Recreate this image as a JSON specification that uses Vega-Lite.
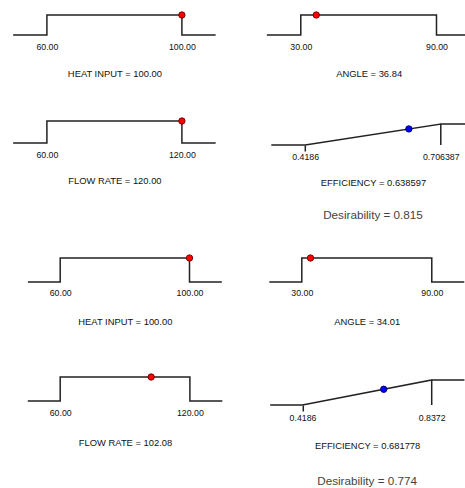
{
  "$schema": "https://vega.github.io/schema/vega-lite/v6.json",
  "padding": {"left": 9.2, "top": 9, "right": -11, "bottom": 0},
  "background": "white",
  "datasets": {
    "curves": [
      {"p": 1, "step": 0, "x": 50, "d": 0}, {"p": 1, "step": 1, "x": 60, "d": 0}, {"p": 1, "step": 2, "x": 60, "d": 1},
      {"p": 1, "step": 3, "x": 100, "d": 1}, {"p": 1, "step": 4, "x": 100, "d": 0}, {"p": 1, "step": 5, "x": 110, "d": 0},
      {"p": 2, "step": 0, "x": 15, "d": 0}, {"p": 2, "step": 1, "x": 30, "d": 0}, {"p": 2, "step": 2, "x": 30, "d": 1},
      {"p": 2, "step": 3, "x": 90, "d": 1}, {"p": 2, "step": 4, "x": 90, "d": 0}, {"p": 2, "step": 5, "x": 105, "d": 0},
      {"p": 3, "step": 0, "x": 45, "d": 0}, {"p": 3, "step": 1, "x": 60, "d": 0}, {"p": 3, "step": 2, "x": 60, "d": 1},
      {"p": 3, "step": 3, "x": 120, "d": 1}, {"p": 3, "step": 4, "x": 120, "d": 0}, {"p": 3, "step": 5, "x": 135, "d": 0},
      {"p": 4, "step": 0, "x": 0.34665, "d": 0}, {"p": 4, "step": 1, "x": 0.4186, "d": 0}, {"p": 4, "step": 2, "x": 0.706387, "d": 1},
      {"p": 4, "step": 3, "x": 0.706387, "d": 0}, {"p": 4, "step": 4, "x": 0.706387, "d": 1}, {"p": 4, "step": 5, "x": 0.77834, "d": 1},
      {"p": 5, "step": 0, "x": 50, "d": 0}, {"p": 5, "step": 1, "x": 60, "d": 0}, {"p": 5, "step": 2, "x": 60, "d": 1},
      {"p": 5, "step": 3, "x": 100, "d": 1}, {"p": 5, "step": 4, "x": 100, "d": 0}, {"p": 5, "step": 5, "x": 110, "d": 0},
      {"p": 6, "step": 0, "x": 15, "d": 0}, {"p": 6, "step": 1, "x": 30, "d": 0}, {"p": 6, "step": 2, "x": 30, "d": 1},
      {"p": 6, "step": 3, "x": 90, "d": 1}, {"p": 6, "step": 4, "x": 90, "d": 0}, {"p": 6, "step": 5, "x": 105, "d": 0},
      {"p": 7, "step": 0, "x": 45, "d": 0}, {"p": 7, "step": 1, "x": 60, "d": 0}, {"p": 7, "step": 2, "x": 60, "d": 1},
      {"p": 7, "step": 3, "x": 120, "d": 1}, {"p": 7, "step": 4, "x": 120, "d": 0}, {"p": 7, "step": 5, "x": 135, "d": 0},
      {"p": 8, "step": 0, "x": 0.31395, "d": 0}, {"p": 8, "step": 1, "x": 0.4186, "d": 0}, {"p": 8, "step": 2, "x": 0.8372, "d": 1},
      {"p": 8, "step": 3, "x": 0.8372, "d": 0}, {"p": 8, "step": 4, "x": 0.8372, "d": 1}, {"p": 8, "step": 5, "x": 0.94325, "d": 1}
    ],
    "points": [
      {"p": 1, "x": 100, "d": 1, "kind": "factor"},
      {"p": 2, "x": 36.84, "d": 1, "kind": "factor"},
      {"p": 3, "x": 120, "d": 1, "kind": "factor"},
      {"p": 4, "x": 0.638597, "d": 0.7645, "kind": "response"},
      {"p": 5, "x": 100, "d": 1, "kind": "factor"},
      {"p": 6, "x": 34.01, "d": 1, "kind": "factor"},
      {"p": 7, "x": 102.08, "d": 1, "kind": "factor"},
      {"p": 8, "x": 0.681778, "d": 0.6287, "kind": "response"}
    ]
  },
  "columns": 2,
  "align": "none",
  "bounds": "flush",
  "spacing": {"row": 70, "column": 35.6},
  "concat": [
    {
      "width": 200.4, "height": 20,
      "layer": [
        {"data": {"name": "curves"}, "transform": [{"filter": "datum.p == 1"}],
         "mark": {"type": "line", "color": "#222", "strokeWidth": 1.5, "clip": false},
         "encoding": {
           "x": {"field": "x", "type": "quantitative", "scale": {"domain": [50.31, 109.69], "nice": false, "zero": false},
                 "axis": {"values": [60, 100], "format": ".2f", "title": "HEAT INPUT = 100.00", "titlePadding": 18.5, "tickOpacity": 0}},
           "y": {"field": "d", "type": "quantitative", "scale": {"domain": [0, 1], "nice": false}, "axis": null},
           "order": {"field": "step"}}},
        {"data": {"name": "points"}, "transform": [{"filter": "datum.p == 1"}],
         "mark": {"type": "circle", "size": 40, "opacity": 1, "strokeWidth": 1},
         "encoding": {
           "x": {"field": "x", "type": "quantitative"},
           "y": {"field": "d", "type": "quantitative"},
           "fill": {"field": "kind", "type": "nominal", "scale": {"domain": ["factor", "response"], "range": ["#ff0000", "#0000ff"]}, "legend": null},
           "stroke": {"field": "kind", "type": "nominal", "scale": {"domain": ["factor", "response"], "range": ["#7a0000", "#00006e"]}, "legend": null}}}
      ]
    },
    {
      "width": 193.7, "height": 20,
      "layer": [
        {"data": {"name": "curves"}, "transform": [{"filter": "datum.p == 2"}],
         "mark": {"type": "line", "color": "#222", "strokeWidth": 1.5, "clip": false},
         "encoding": {
           "x": {"field": "x", "type": "quantitative", "scale": {"domain": [17.18, 102.82], "nice": false, "zero": false},
                 "axis": {"values": [30, 90], "format": ".2f", "title": "ANGLE = 36.84", "titlePadding": 18.5, "tickOpacity": 0}},
           "y": {"field": "d", "type": "quantitative", "scale": {"domain": [0, 1], "nice": false}, "axis": null},
           "order": {"field": "step"}}},
        {"data": {"name": "points"}, "transform": [{"filter": "datum.p == 2"}],
         "mark": {"type": "circle", "size": 40, "opacity": 1, "strokeWidth": 1},
         "encoding": {
           "x": {"field": "x", "type": "quantitative"},
           "y": {"field": "d", "type": "quantitative"},
           "fill": {"field": "kind", "type": "nominal", "scale": {"domain": ["factor", "response"], "range": ["#ff0000", "#0000ff"]}, "legend": null},
           "stroke": {"field": "kind", "type": "nominal", "scale": {"domain": ["factor", "response"], "range": ["#7a0000", "#00006e"]}, "legend": null}}}
      ]
    },
    {
      "width": 200.4, "height": 38,
      "layer": [
        {"data": {"name": "curves"}, "transform": [{"filter": "datum.p == 3"}],
         "mark": {"type": "line", "color": "#222", "strokeWidth": 1.5, "clip": false},
         "encoding": {
           "x": {"field": "x", "type": "quantitative", "scale": {"domain": [45.47, 134.53], "nice": false, "zero": false},
                 "axis": {"values": [60, 120], "format": ".2f", "title": "FLOW RATE = 120.00", "titlePadding": 18, "tickOpacity": 0}},
           "y": {"field": "d", "type": "quantitative", "scale": {"domain": [0, 1.727], "nice": false}, "axis": null},
           "order": {"field": "step"}}},
        {"data": {"name": "points"}, "transform": [{"filter": "datum.p == 3"}],
         "mark": {"type": "circle", "size": 40, "opacity": 1, "strokeWidth": 1},
         "encoding": {
           "x": {"field": "x", "type": "quantitative"},
           "y": {"field": "d", "type": "quantitative"},
           "fill": {"field": "kind", "type": "nominal", "scale": {"domain": ["factor", "response"], "range": ["#ff0000", "#0000ff"]}, "legend": null},
           "stroke": {"field": "kind", "type": "nominal", "scale": {"domain": ["factor", "response"], "range": ["#7a0000", "#00006e"]}, "legend": null}}}
      ]
    },
    {
      "width": 202.4, "height": 40,
      "title": {"text": "Desirability = 0.815", "orient": "bottom", "anchor": "middle", "frame": "group", "offset": 22.5},
      "layer": [
        {"data": {"name": "curves"}, "transform": [{"filter": "datum.p == 4"}],
         "mark": {"type": "line", "color": "#222", "strokeWidth": 1.5, "clip": false},
         "encoding": {
           "x": {"field": "x", "type": "quantitative", "scale": {"domain": [0.34771, 0.77728], "nice": false, "zero": false},
                 "axis": {"values": [0.4186, 0.706387], "format": ".6~f", "title": "EFFICIENCY = 0.638597", "titlePadding": 18,
                          "tickOpacity": {"condition": {"test": "datum.value < 0.5", "value": 1}, "value": 0}}},
           "y": {"field": "d", "type": "quantitative", "scale": {"domain": [0, 1.905], "nice": false}, "axis": null},
           "order": {"field": "step"}}},
        {"data": {"name": "points"}, "transform": [{"filter": "datum.p == 4"}],
         "mark": {"type": "circle", "size": 40, "opacity": 1, "strokeWidth": 1},
         "encoding": {
           "x": {"field": "x", "type": "quantitative"},
           "y": {"field": "d", "type": "quantitative"},
           "fill": {"field": "kind", "type": "nominal", "scale": {"domain": ["factor", "response"], "range": ["#ff0000", "#0000ff"]}, "legend": null},
           "stroke": {"field": "kind", "type": "nominal", "scale": {"domain": ["factor", "response"], "range": ["#7a0000", "#00006e"]}, "legend": null}}}
      ]
    },
    {
      "width": 221.3, "height": 67,
      "layer": [
        {"data": {"name": "curves"}, "transform": [{"filter": "datum.p == 5"}],
         "mark": {"type": "line", "color": "#222", "strokeWidth": 1.5, "clip": false},
         "encoding": {
           "x": {"field": "x", "type": "quantitative", "scale": {"domain": [45.77, 114.23], "nice": false, "zero": false},
                 "axis": {"values": [60, 100], "format": ".2f", "title": "HEAT INPUT = 100.00", "titlePadding": 19.5, "tickOpacity": 0}},
           "y": {"field": "d", "type": "quantitative", "scale": {"domain": [0, 2.792], "nice": false}, "axis": null},
           "order": {"field": "step"}}},
        {"data": {"name": "points"}, "transform": [{"filter": "datum.p == 5"}],
         "mark": {"type": "circle", "size": 40, "opacity": 1, "strokeWidth": 1},
         "encoding": {
           "x": {"field": "x", "type": "quantitative"},
           "y": {"field": "d", "type": "quantitative"},
           "fill": {"field": "kind", "type": "nominal", "scale": {"domain": ["factor", "response"], "range": ["#ff0000", "#0000ff"]}, "legend": null},
           "stroke": {"field": "kind", "type": "nominal", "scale": {"domain": ["factor", "response"], "range": ["#7a0000", "#00006e"]}, "legend": null}}}
      ]
    },
    {
      "width": 190, "height": 67,
      "layer": [
        {"data": {"name": "curves"}, "transform": [{"filter": "datum.p == 6"}],
         "mark": {"type": "line", "color": "#222", "strokeWidth": 1.5, "clip": false},
         "encoding": {
           "x": {"field": "x", "type": "quantitative", "scale": {"domain": [16.15, 103.85], "nice": false, "zero": false},
                 "axis": {"values": [30, 90], "format": ".2f", "title": "ANGLE = 34.01", "titlePadding": 19.5, "tickOpacity": 0}},
           "y": {"field": "d", "type": "quantitative", "scale": {"domain": [0, 2.792], "nice": false}, "axis": null},
           "order": {"field": "step"}}},
        {"data": {"name": "points"}, "transform": [{"filter": "datum.p == 6"}],
         "mark": {"type": "circle", "size": 40, "opacity": 1, "strokeWidth": 1},
         "encoding": {
           "x": {"field": "x", "type": "quantitative"},
           "y": {"field": "d", "type": "quantitative"},
           "fill": {"field": "kind", "type": "nominal", "scale": {"domain": ["factor", "response"], "range": ["#ff0000", "#0000ff"]}, "legend": null},
           "stroke": {"field": "kind", "type": "nominal", "scale": {"domain": ["factor", "response"], "range": ["#7a0000", "#00006e"]}, "legend": null}}}
      ]
    },
    {
      "width": 221.7, "height": 49,
      "layer": [
        {"data": {"name": "curves"}, "transform": [{"filter": "datum.p == 7"}],
         "mark": {"type": "line", "color": "#222", "strokeWidth": 1.5, "clip": false},
         "encoding": {
           "x": {"field": "x", "type": "quantitative", "scale": {"domain": [38.72, 141.28], "nice": false, "zero": false},
                 "axis": {"values": [60, 120], "format": ".2f", "title": "FLOW RATE = 102.08", "titlePadding": 20.5, "labelPadding": 2, "tickOpacity": 0}},
           "y": {"field": "d", "type": "quantitative", "scale": {"domain": [0, 2.042], "nice": false}, "axis": null},
           "order": {"field": "step"}}},
        {"data": {"name": "points"}, "transform": [{"filter": "datum.p == 7"}],
         "mark": {"type": "circle", "size": 40, "opacity": 1, "strokeWidth": 1},
         "encoding": {
           "x": {"field": "x", "type": "quantitative"},
           "y": {"field": "d", "type": "quantitative"},
           "fill": {"field": "kind", "type": "nominal", "scale": {"domain": ["factor", "response"], "range": ["#ff0000", "#0000ff"]}, "legend": null},
           "stroke": {"field": "kind", "type": "nominal", "scale": {"domain": ["factor", "response"], "range": ["#7a0000", "#00006e"]}, "legend": null}}}
      ]
    },
    {
      "width": 190.6, "height": 53,
      "title": {"text": "Desirability = 0.774", "orient": "bottom", "anchor": "middle", "frame": "group", "offset": 26},
      "layer": [
        {"data": {"name": "curves"}, "transform": [{"filter": "datum.p == 8"}],
         "mark": {"type": "line", "color": "#222", "strokeWidth": 1.5, "clip": false},
         "encoding": {
           "x": {"field": "x", "type": "quantitative", "scale": {"domain": [0.31921, 0.93659], "nice": false, "zero": false},
                 "axis": {"values": [0.4186, 0.8372], "format": ".6~f", "title": "EFFICIENCY = 0.681778", "titlePadding": 19, "labelPadding": 3,
                          "tickOpacity": {"condition": {"test": "datum.value < 0.5", "value": 1}, "value": 0}}},
           "y": {"field": "d", "type": "quantitative", "scale": {"domain": [0, 2.12], "nice": false}, "axis": null},
           "order": {"field": "step"}}},
        {"data": {"name": "points"}, "transform": [{"filter": "datum.p == 8"}],
         "mark": {"type": "circle", "size": 40, "opacity": 1, "strokeWidth": 1},
         "encoding": {
           "x": {"field": "x", "type": "quantitative"},
           "y": {"field": "d", "type": "quantitative"},
           "fill": {"field": "kind", "type": "nominal", "scale": {"domain": ["factor", "response"], "range": ["#ff0000", "#0000ff"]}, "legend": null},
           "stroke": {"field": "kind", "type": "nominal", "scale": {"domain": ["factor", "response"], "range": ["#7a0000", "#00006e"]}, "legend": null}}}
      ]
    }
  ],
  "resolve": {"scale": {"x": "independent", "y": "independent"}},
  "config": {
    "view": {"stroke": null},
    "font": "Liberation Sans",
    "axis": {
      "domain": false, "grid": false, "ticks": true, "tickSize": 6, "tickWidth": 1.5, "tickColor": "#222",
      "labelFont": "Liberation Sans", "labelFontSize": 8.8, "labelColor": "#111", "labelPadding": 1,
      "labelFlush": false, "labelOverlap": false,
      "titleFont": "Liberation Sans", "titleFontSize": 9.4, "titleFontWeight": "normal", "titleColor": "#111"
    },
    "title": {"font": "Liberation Sans", "fontSize": 11.7, "fontWeight": "normal", "color": "#444"}
  }
}
